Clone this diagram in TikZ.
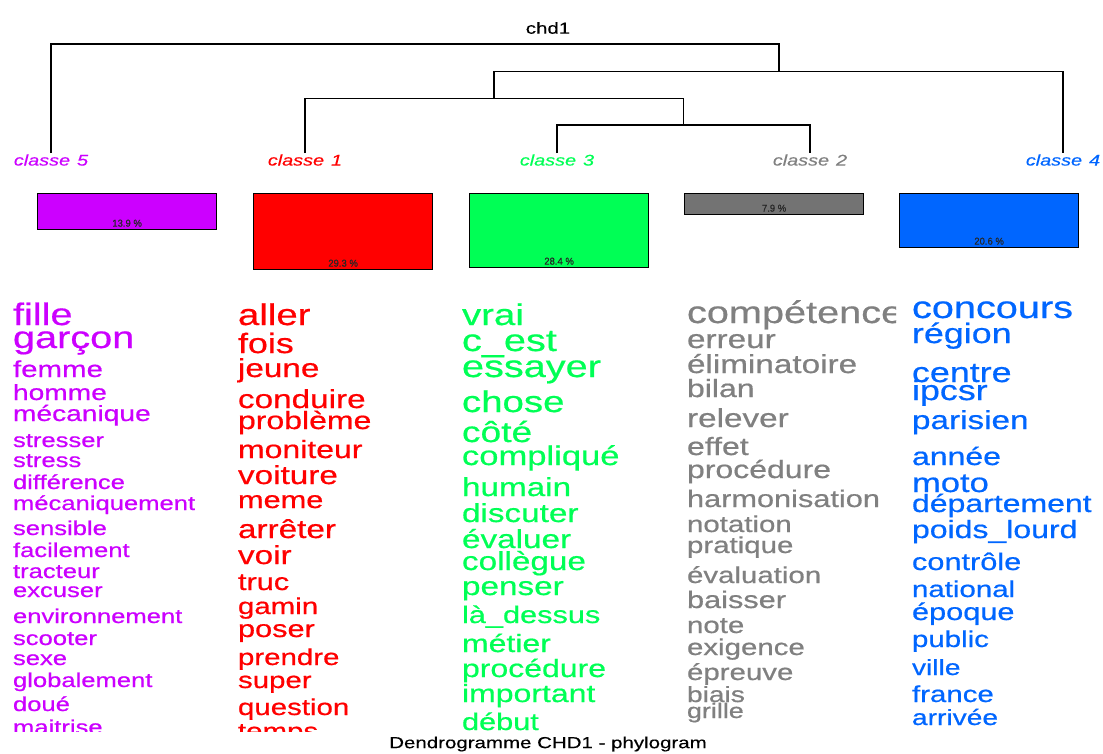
\documentclass[tikz,border=0pt]{standalone}
\usepackage{fontspec}
\setmainfont{Liberation Sans}
\newfontfamily\wfont[FakeStretch=1.28,FakeBold=0.6]{Liberation Sans}
\newfontfamily\tfont[FakeStretch=1.28,FakeBold=0.3]{Liberation Sans}
\newfontfamily\pfont[FakeStretch=0.95,FakeBold=0.4]{Liberation Sans}
\newcommand\fsz[1]{\fontsize{#1}{#1}\selectfont}
\definecolor{cmag}{RGB}{204,0,255}
\definecolor{cred}{RGB}{255,0,0}
\definecolor{cgreen}{RGB}{0,255,85}
\definecolor{cgray}{RGB}{128,128,128}
\definecolor{cgraybar}{RGB}{115,115,115}
\definecolor{cblue}{RGB}{0,102,255}
\begin{document}
\begin{tikzpicture}[x=1pt,y=-1pt,
  tree/.style={draw=black,line width=1.2pt},
  clab/.style={font=\tfont\itshape\fsz{15.5},inner sep=1pt,anchor=center},
  bar/.style={draw=black,line width=1.2pt,inner sep=0,anchor=north west,minimum width=179pt},
  pct/.style={font=\pfont\fsz{10},text=black!85,inner sep=0},
  word/.style={anchor=base west,inner sep=0,outer sep=0}]
\useasboundingbox (0,0) rectangle (1103,753);
\fill[white] (0,0) rectangle (1103,753);

% titles
\node[font=\tfont\fsz{16}] (title) at (548,28) {chd1};
\node[font=\tfont\fsz{16}] (caption) at (548,744) {Dendrogramme CHD1 - phylogram};

% class labels
\node[clab,text=cmag]  (cl5) at (51,160)  {classe\kern7pt 5};
\node[clab,text=cred]  (cl1) at (305,160) {classe\kern7pt 1};
\node[clab,text=cgreen](cl3) at (557,160) {classe\kern7pt 3};
\node[clab,text=cgray] (cl2) at (810,160) {classe\kern7pt 2};
\node[clab,text=cblue] (cl4) at (1063,160){classe\kern7pt 4};

% dendrogram junctions
\coordinate (j4) at (683.5,125);
\coordinate (j3) at (494,98.5);
\coordinate (j2) at (779,71.5);
\coordinate (j1) at (415,44);
\draw[tree] (cl3.north) |- (j4) -| (cl2.north);
\draw[tree] (cl1.north) |- (j3) -| (j4);
\draw[tree] (j3) |- (j2) -| (cl4.north);
\draw[tree] (cl5.north) |- (j1) -| (j2);

% bars
\node[bar,fill=cmag,minimum height=36pt]     (b5) at (37,193)  {};
\node[bar,fill=cred,minimum height=76pt]     (b1) at (253,193) {};
\node[bar,fill=cgreen,minimum height=74pt]   (b3) at (469,193) {};
\node[bar,fill=cgraybar,minimum height=21pt] (b2) at (684,193) {};
\node[bar,fill=cblue,minimum height=54pt]    (b4) at (899,193) {};
\node[pct] (p5) at ([yshift=7pt]b5.south) {13.9 \%};
\node[pct] (p1) at ([yshift=7pt]b1.south) {29.3 \%};
\node[pct] (p3) at ([yshift=7pt]b3.south) {28.4 \%};
\node[pct] (p2) at ([yshift=7pt]b2.south) {7.9 \%};
\node[pct] (p4) at ([yshift=7pt]b4.south) {20.6 \%};

% word columns
\begin{scope}
\clip (0,292) rectangle (1103,731.5);
\foreach \yy/\sz/\wt [count=\i] in {325/31/fille,348/31/garçon,377/23/femme,400/22/homme,421/22/mécanique,447/20/stresser,467/20/stress,489/20/différence,510/20/mécaniquement,535/20/sensible,557/20/facilement,578/20/tracteur,597/20/excuser,623/20/environnement,645/20/scooter,665/20/sexe,687/20/globalement,711/20/doué,734/20/maitrise}
  {\node[word,text=cmag,font=\wfont\fsz{\sz}] (wa\i) at (13,\yy) {\wt};}
\foreach \yy/\sz/\wt [count=\i] in {325/30/aller,353/28/fois,377/26/jeune,408/26/conduire,429/25/problème,458/25/moniteur,484/26/voiture,508/24/meme,538/26/arrêter,564/26/voir,590/24/truc,614/23/gamin,637/24/poser,665/23/prendre,688/23/super,715/23/question,739/23/temps}
  {\node[word,text=cred,font=\wfont\fsz{\sz}] (wb\i) at (238,\yy) {\wt};}
\foreach \yy/\sz/\wt [count=\i] in {325/30/vrai,351/31/c\_est,377/31/essayer,412/30/chose,442/29/côté,465/27/compliqué,496/26/humain,522/26/discuter,548/26/évaluer,570/26/collègue,595/26/penser,623/24/là\_dessus,652/25/métier,677/25/procédure,702/25/important,730/24/début}
  {\node[word,text=cgreen,font=\wfont\fsz{\sz}] (wc\i) at (462,\yy) {\wt};}
\foreach \yy/\sz/\wt [count=\i] in {318/31/concours,343/28/région,382/28/centre,400/28/ipcsr,429/26/parisien,465/25/année,492/27/moto,512/25/département,538/25/poids\_lourd,570/24/contrôle,597/23/national,620/24/époque,647/23/public,675/22/ville,702/23/france,725/22/arrivée}
  {\node[word,text=cblue,font=\wfont\fsz{\sz}] (we\i) at (912,\yy) {\wt};}
\end{scope}
\begin{scope}
\clip (0,292) rectangle (896,731.5);
\foreach \yy/\sz/\wt [count=\i] in {323/31/compétence,348/26/erreur,373/26/éliminatoire,397/25/bilan,427/26/relever,455/25/effet,478/25/procédure,507/24/harmonisation,532/23/notation,553/23/pratique,583/23/évaluation,608/24/baisser,633/23/note,655/23/exigence,680/23/épreuve,702/22/biais,718/21/grille}
  {\node[word,text=cgray,font=\wfont\fsz{\sz}] (wd\i) at (687,\yy) {\wt};}
\end{scope}
\end{tikzpicture}
\end{document}
